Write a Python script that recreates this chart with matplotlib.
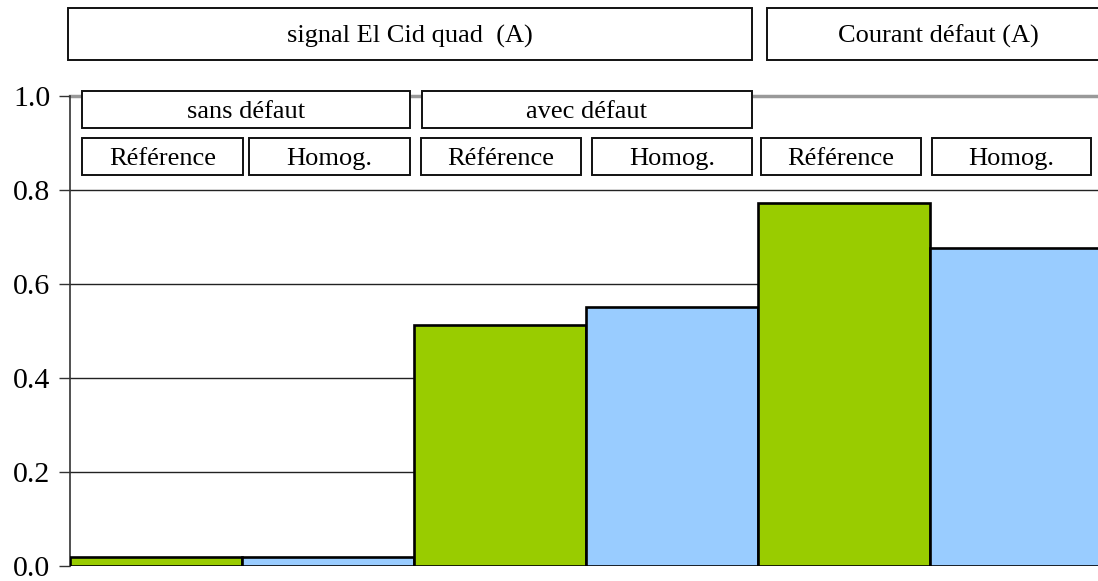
"""
El Cid quad signal vs fault current — reference vs homogenised model.
Six adjacent bars with header boxes drawn above the plot area.
"""

import matplotlib
matplotlib.use("Agg")
import matplotlib.pyplot as plt
from matplotlib.patches import Rectangle

plt.rcParams["font.family"] = ["Liberation Serif", "DejaVu Serif"]

# Data
categories = ["Référence", "Homog.", "Référence", "Homog.", "Référence", "Homog."]
values = [0.019, 0.019, 0.513, 0.552, 0.773, 0.676]
bar_colors = ["#99CC00", "#99CCFF", "#99CC00", "#99CCFF", "#99CC00", "#99CCFF"]
yticks = [0.0, 0.2, 0.4, 0.6, 0.8, 1.0]

# Header boxes: (label, x0, x1, y0, y1) in pixels of the 1098x581 image
group_titles = ["signal El Cid quad  (A)", "Courant défaut (A)"]
sub_titles = ["sans défaut", "avec défaut"]

W, H = 1098, 581
fig = plt.figure(figsize=(W / 100, H / 100), dpi=100)

# plot area: x 70..1102 px, y 96..566 px (right bar is clipped by the image edge)
ax = fig.add_axes([70 / W, (H - 566) / H, 1032 / W, 470 / H])
x = list(range(len(values)))
ax.bar(x, values, width=1.0, color=bar_colors, edgecolor="black", linewidth=1.9, zorder=3)
ax.set_xlim(-0.5, len(values) - 0.5)
ax.set_ylim(0, 1.0)
ax.set_yticks(yticks)
ax.set_yticklabels([f"{v:.1f}" for v in yticks], fontsize=21.5)
ax.set_xticks([])
ax.tick_params(axis="y", direction="out", length=8, width=1, color="#333333", pad=6)

for v in yticks[1:-1]:
    ax.axhline(v, color="#222222", linewidth=1.0, zorder=1)
ax.axhline(1.0, color="#999999", linewidth=2.5, zorder=1, clip_on=False)

for side in ["top", "right", "bottom"]:
    ax.spines[side].set_visible(False)
ax.spines["left"].set_color("#333333")
ax.spines["left"].set_linewidth(1.2)


def header_box(label, x0, x1, y0, y1):
    """Draw a framed label in image pixel coordinates."""
    rect = Rectangle((x0 / W, 1 - y1 / H), (x1 - x0) / W, (y1 - y0) / H,
                     transform=fig.transFigure, facecolor="white",
                     edgecolor="#111111", linewidth=1.4, zorder=5, clip_on=False)
    fig.add_artist(rect)
    fig.text((x0 + x1) / 2 / W, 1 - (y0 + y1) / 2 / H, label,
             ha="center", va="center_baseline", fontsize=19, zorder=6)


header_box(group_titles[0], 68, 752, 8, 60)
header_box(group_titles[1], 767, 1110, 8, 60)
header_box(sub_titles[0], 82, 410, 91, 128)
header_box(sub_titles[1], 422, 752, 91, 128)

cat_boxes = [(82, 243), (249, 410), (421, 581), (592, 752), (761, 921), (932, 1091)]
for label, (x0, x1) in zip(categories, cat_boxes):
    header_box(label, x0, x1, 138, 175)

fig.savefig("out.png", dpi=100)
